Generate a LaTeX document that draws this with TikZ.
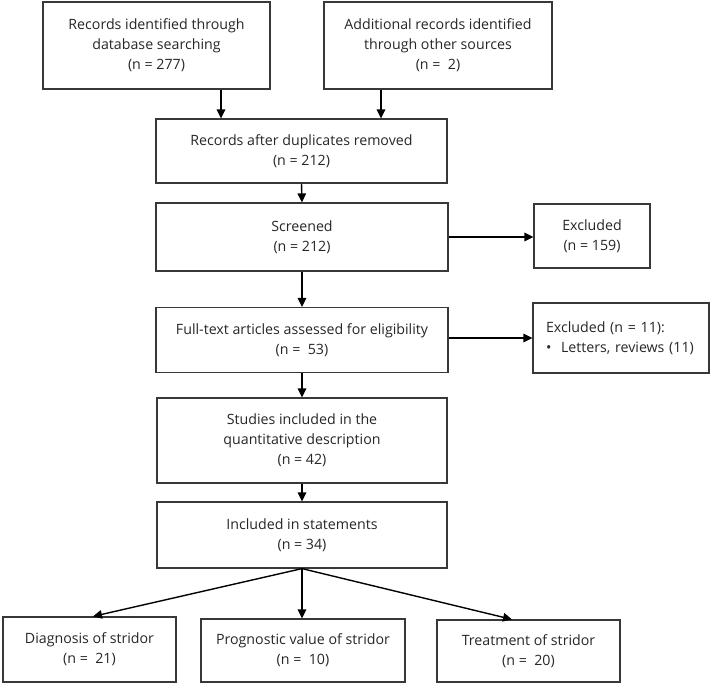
\documentclass[tikz,border=0pt]{standalone}
\usepackage{fontspec}
\setmainfont{Open Sans}
\usetikzlibrary{arrows.meta}
\begin{document}
\begin{tikzpicture}[x=1pt,y=-1pt,
  box/.style={draw=black!78,line width=1.2pt,inner sep=0pt,align=center,
    font=\fontsize{14.2}{20}\selectfont,text=black!85},
  arr/.style={draw=black,line width=1.4pt,-{Triangle[length=9pt,width=8.5pt]}}]
\useasboundingbox (0,0) rectangle (712,685);
\node[box,minimum width=227,minimum height=87] (b1) at (156.5,45.5)
  {Records identified through\\database searching\\(n = 277)};
\node[box,minimum width=228,minimum height=87] (b2) at (438,45.5)
  {Additional records identified\\through other sources\\(n = \ 2)};
\node[box,minimum width=291,minimum height=64] (b3) at (301.5,151)
  {Records after duplicates removed\\(n = 212)};
\node[box,minimum width=292,minimum height=68] (b4) at (302,237)
  {Screened\\(n = 212)};
\node[box,minimum width=116,minimum height=64] (ex1) at (592,236)
  {Excluded\\(n = 159)};
\node[box,minimum width=292,minimum height=65] (b5) at (302,340)
  {Full-text articles assessed for eligibility\\(n = \ 53)};
\node[box,align=left,text width=150,inner xsep=13,minimum height=70] (ex2) at (621,338)
  {Excluded (n = 11):\\\makebox[15pt][l]{•}Letters, reviews (11)};
\node[box,minimum width=290,minimum height=85] (b6) at (302,440.5)
  {Studies included in the\\quantitative description\\(n = 42)};
\node[box,minimum width=290,minimum height=66] (b7) at (302,535)
  {Included in statements\\(n = 34)};
\node[box,minimum width=173,minimum height=65] (d1) at (89.5,649.5)
  {Diagnosis of stridor\\(n = \ 21)};
\node[box,minimum width=204,minimum height=63] (d2) at (303,650.5)
  {Prognostic value of stridor\\(n = \ 10)};
\node[box,minimum width=183,minimum height=62] (d3) at (528.5,651)
  {Treatment of stridor\\(n = \ 20)};
\coordinate (a1) at (221,0);
\coordinate (a2) at (381,0);
\draw[arr] (b1.south -| a1) -- (b3.north -| a1);
\draw[arr] (b2.south -| a2) -- (b3.north -| a2);
\draw[arr] (b3.south) -- (b4.north);
\draw[arr] (b4.east) -- (ex1.west |- b4.east);
\draw[arr] (b4.south) -- (b5.north);
\draw[arr] (b5.east |- ex2.west) -- (ex2.west);
\draw[arr] (b5.south) -- (b6.north);
\draw[arr] (b6.south) -- (b7.north);
\draw[arr] (b7.south) -- ([xshift=3.5]d1.north);
\draw[arr] (b7.south) -- (d2.north -| b7.south);
\draw[arr] (b7.south) -- ([xshift=-16.5]d3.north);
\end{tikzpicture}
\end{document}
